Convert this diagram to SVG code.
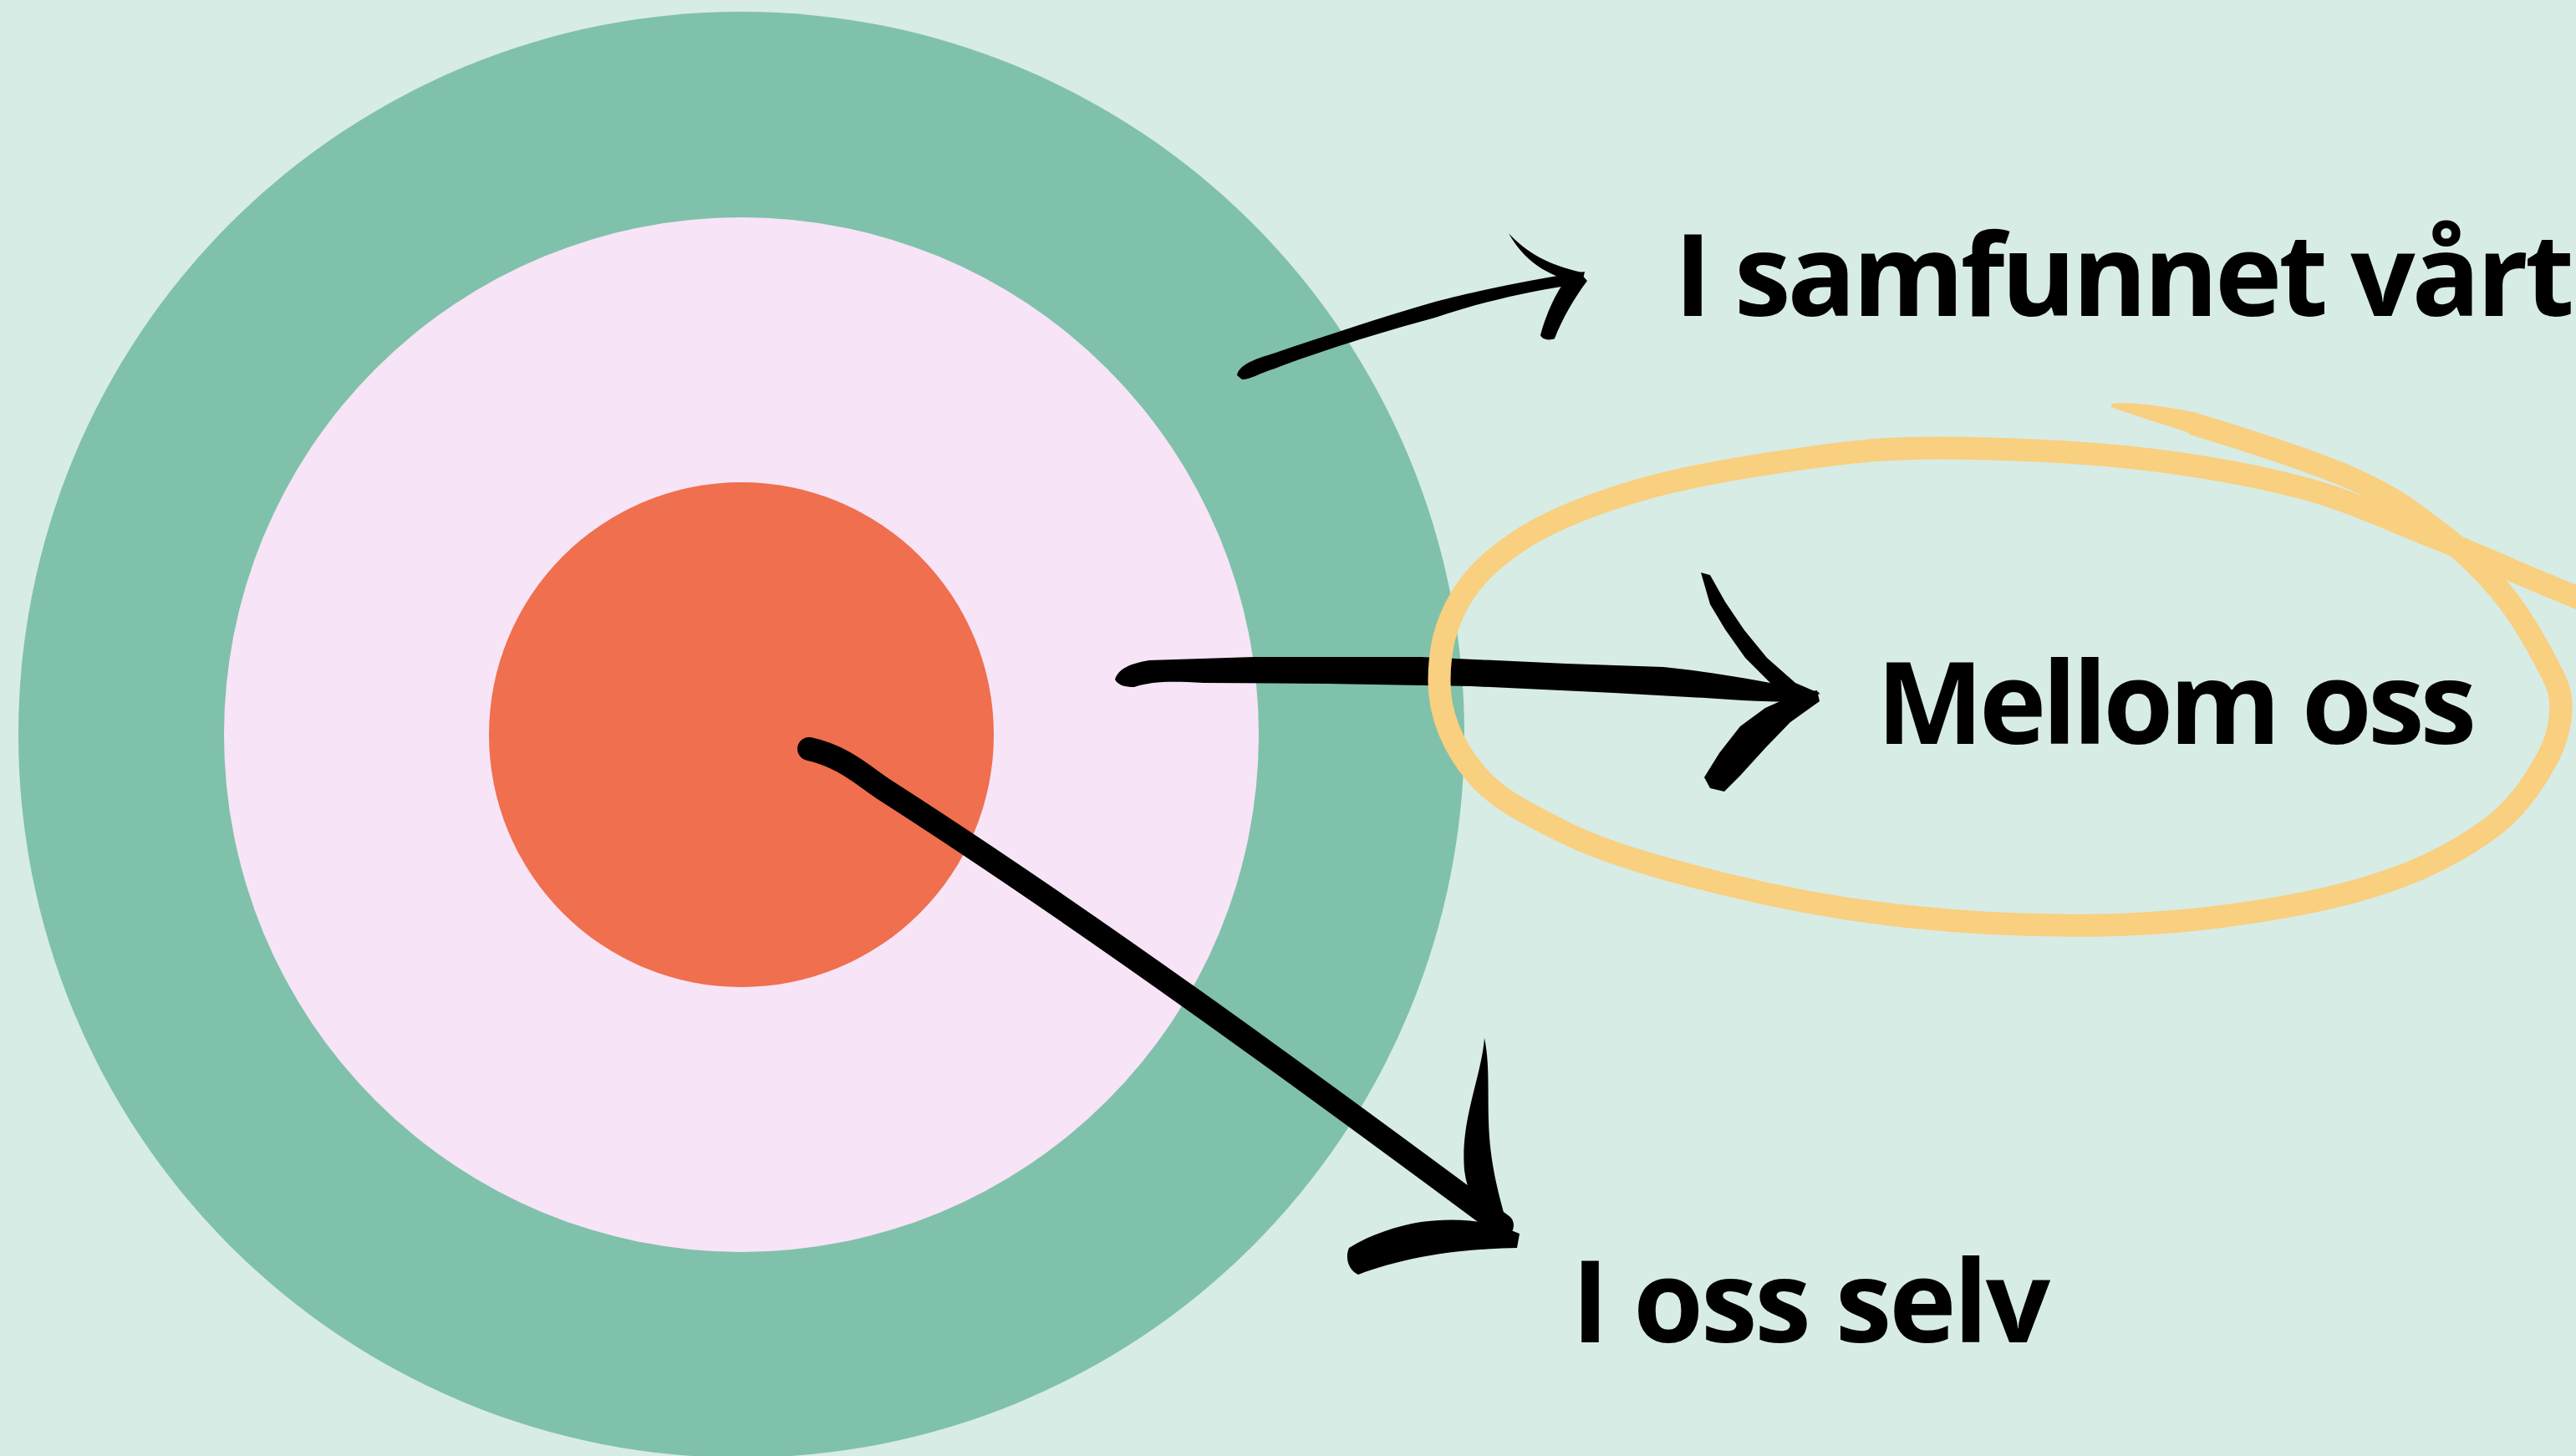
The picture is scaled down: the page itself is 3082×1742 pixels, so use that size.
<svg xmlns="http://www.w3.org/2000/svg" width="3082" height="1742" viewBox="0 0 3082 1742">
<style>
.lbl{font-family:"Open Sans","Noto Sans","Liberation Sans",sans-serif;font-weight:700;font-size:136px;fill:#000}
.ink{fill:#000}
.shaft{fill:none;stroke:#000;stroke-linecap:round;stroke-linejoin:round}
.loop{fill:none;stroke:#f9cf80;stroke-width:27;stroke-linecap:round;stroke-linejoin:round}
</style>
<rect width="3082" height="1742" fill="#d7ece4"/>
<g id="ring-outer"><circle cx="887" cy="879" r="865" fill="#80c1ab"/></g>
<g id="ring-middle"><circle cx="887" cy="879" r="619" fill="#f7e4f6"/></g>
<g id="ring-inner"><circle cx="887" cy="879" r="302" fill="#ef6f4f"/></g>
<g id="connectors">
  <g id="arrow-samfunnet">
    <path class="ink" d="M1480,449 C1482,437 1500,430 1520,424 C1580,404 1650,380 1717,361 C1760,350 1820,336 1896,325 L1893,339 C1830,348 1770,362 1717,380 C1650,398 1580,420 1525,441 C1508,446 1496,454 1486,454 Z"/>
    <path class="ink" d="M1805,279 C1826,302 1852,317 1893,326 L1889,339 C1850,329 1824,313 1805,279 Z"/>
    <path class="ink" d="M1890,326 L1899,336 C1883,357 1869,382 1860,405 C1853,408 1845,406 1843,401 C1850,375 1861,351 1875,332 Z"/>
  </g>
  <g id="arrow-mellom">
    <path class="ink" d="M1334,813 C1338,800 1352,794 1375,790 L1500,786 L1700,786 L1874,794 L1990,798 C2060,805 2120,817 2176,828 L2172,840 C2120,840 2080,838 2040,835 L1931,829 L1760,821 L1587,818 L1440,817 C1400,815 1380,815 1357,822 C1346,822 1338,820 1334,813 Z"/>
    <path class="ink" d="M2035,685 L2046,688 L2064,720 L2087,754 L2114,787 L2148,817 L2178,830 L2150,837 L2120,819 L2088,787 L2064,753 L2046,723 Z"/>
    <path class="ink" d="M2174,826 L2177,839 L2142,864 L2112,895 L2082,928 L2063,947 L2046,943 L2039,930 L2057,901 L2082,869 L2112,847 L2150,830 Z"/>
  </g>
  <g id="arrow-selv">
    <path class="shaft" stroke-width="28" d="M968,896 C1010,905 1035,930 1060,946 C1300,1100 1560,1290 1797,1466"/>
    <path class="ink" d="M1776,1242 C1772,1290 1747,1340 1752,1400 C1756,1433 1773,1458 1790,1473 L1805,1471 C1793,1430 1782,1390 1781,1340 C1780,1300 1782,1270 1776,1242 Z"/>
    <path class="ink" d="M1818,1476 L1815,1493 C1780,1494 1740,1496 1700,1504 C1670,1510 1645,1517 1625,1525 C1613,1519 1609,1505 1614,1493 C1640,1477 1670,1467 1700,1462 C1740,1457 1780,1459 1818,1476 Z"/>
  </g>
</g>
<g id="highlight-loop">
  <path fill="#f9cf80" d="M2526,483 C2550,480 2590,486 2630,494 L2626,520 C2590,508 2550,496 2526,487 Z"/>
  <path class="loop" d="M2627,508 C2674,522 2765,551 2813,572 C2861,593 2884,611 2913,633 C2943,655 2968,679 2990,705 C3012,731 3033,767 3045,790 C3057,813 3064,825 3064,845 C3064,865 3059,888 3045,912 C3031,937 3011,968 2978,992 C2945,1016 2899,1041 2845,1058 C2791,1076 2717,1089 2654,1097 C2592,1105 2533,1108 2467,1107 C2401,1107 2327,1102 2260,1094 C2193,1086 2129,1074 2064,1058 C1999,1042 1925,1022 1872,996 C1820,970 1790,955 1765,925 C1740,895 1722,857 1722,815 C1722,775 1730,745 1748,715 C1766,685 1790,665 1825,642 C1862,620 1913,600 1970,584 C2027,568 2104,556 2162,548 C2220,540 2254,536 2319,536 C2385,536 2483,540 2555,548 C2627,556 2694,568 2752,583 C2810,598 2864,624 2905,640 C2946,656 2968,666 3000,680 C3033,694 3083,715 3110,726"/>
</g>
<g id="label-samfunnet"><text class="lbl" x="2003" y="378" textLength="1077">I samfunnet vårt</text></g>
<g id="label-mellom"><text class="lbl" x="2245" y="890" textLength="718">Mellom oss</text></g>
<g id="label-selv"><text class="lbl" x="1880" y="1606" textLength="573">I oss selv</text></g>
</svg>
